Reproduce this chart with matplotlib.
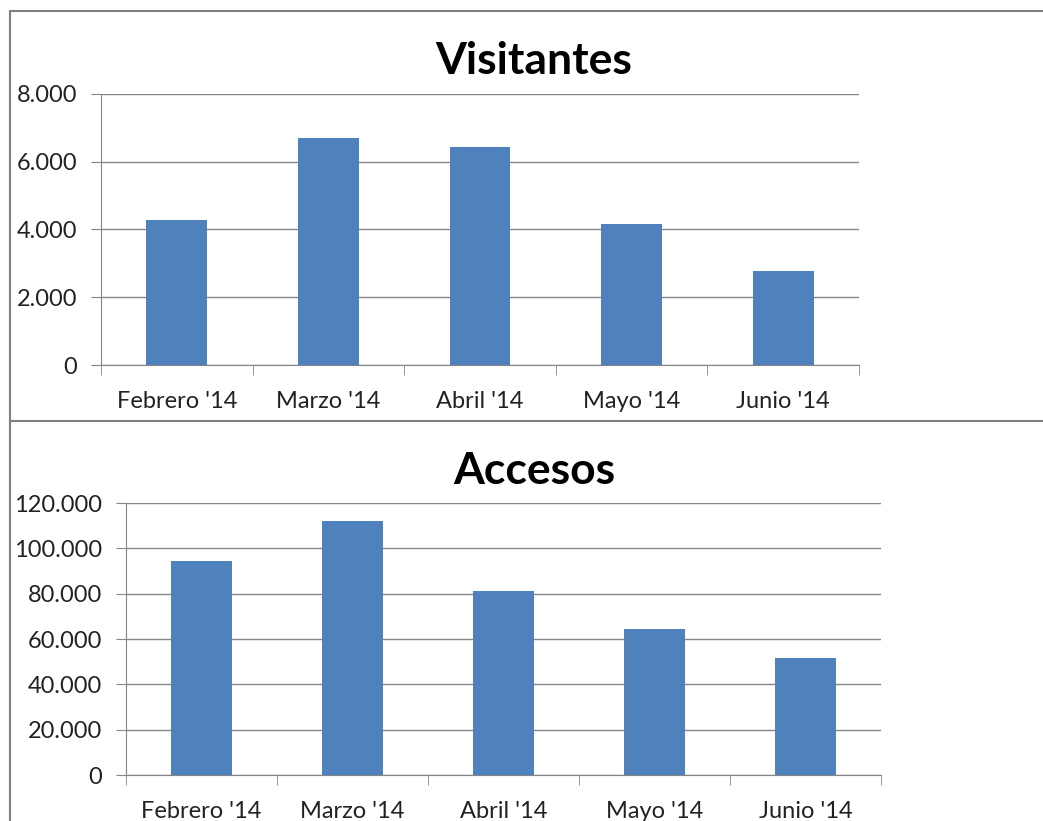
import matplotlib.pyplot as plt
from matplotlib.lines import Line2D
from matplotlib.ticker import FuncFormatter, FixedLocator

meses = ["Febrero '14", "Marzo '14", "Abril '14", "Mayo '14", "Junio '14"]
visitantes = [4290, 6700, 6430, 4170, 2780]
accesos = [94400, 112000, 81200, 64400, 51600]

W, H = 1043, 821
plt.rcParams['font.family'] = ['Lato', 'DejaVu Sans']

fig = plt.figure(figsize=(W / 100, H / 100), dpi=100)

def px(x0, y0, x1, y1):
    # rectángulo en píxeles -> coordenadas de figura
    return [x0 / W, 1 - y1 / H, (x1 - x0) / W, (y1 - y0) / H]

def miles(v, _):
    return f'{int(v):,}'.replace(',', '.')

def grafico(rect, valores, ymax, paso, titulo, ytit):
    ax = fig.add_axes(rect)
    x = range(len(valores))
    ax.bar(x, valores, width=0.4, color='#4F81BD', zorder=3)
    ax.set_xlim(-0.5, len(valores) - 0.5)
    ax.set_ylim(0, ymax)
    ax.set_yticks(range(0, ymax + 1, paso))
    ax.yaxis.set_major_formatter(FuncFormatter(miles))
    ax.set_xticks(list(x))
    ax.set_xticklabels(meses)
    ax.xaxis.set_minor_locator(FixedLocator([i - 0.5 for i in range(len(valores) + 1)]))
    ax.tick_params(axis='x', which='major', length=0, pad=19, labelsize=17, labelcolor='#222222')
    ax.tick_params(axis='x', which='minor', length=7, color='#868686', direction='out')
    ax.tick_params(axis='y', length=7, color='#868686', labelsize=17, labelcolor='#222222', pad=10)
    ax.grid(axis='y', color='#868686', linewidth=1, zorder=0)
    for s in ['top', 'right']:
        ax.spines[s].set_visible(False)
    for s in ['left', 'bottom']:
        ax.spines[s].set_color('#868686')
    fig.text(534 / W, 1 - ytit / H, titulo, ha='center', va='center',
             fontsize=32, fontweight='bold', color='black')
    return ax

grafico(px(101, 94, 859, 365), visitantes, 8000, 2000, 'Visitantes', 61)
grafico(px(126, 503, 881, 775), accesos, 120000, 20000, 'Accesos', 471)

# bordes de los gráficos
gris = '#808080'
lineas = [
    ((10, 1043), (11, 11)),
    ((10, 10), (11, 420)),
    ((10, 1043), (421, 421)),
    ((10, 10), (422, 821)),
]
for xs, ys in lineas:
    fig.add_artist(Line2D([v / W for v in xs], [1 - v / H for v in ys],
                          color=gris, linewidth=1.5))

fig.savefig('out.png', dpi=100)
